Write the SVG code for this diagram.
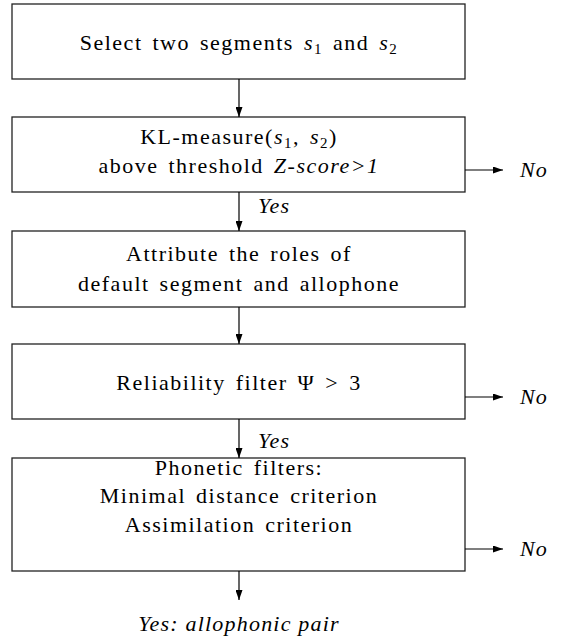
<svg xmlns="http://www.w3.org/2000/svg" width="562" height="637" viewBox="0 0 562 637">
<defs>
<marker id="ah" viewBox="0 0 10 7" refX="10" refY="3.5" markerWidth="10" markerHeight="7" markerUnits="userSpaceOnUse" orient="auto">
<path d="M0,0 L10,3.5 L0,7 Z" fill="#000"/>
</marker>
</defs>
<style>
.box{fill:#fff;stroke:#222;stroke-width:1.3}
.t{font-family:"Liberation Serif","DejaVu Serif",serif;font-size:22px;letter-spacing:1.5px;word-spacing:3px;fill:#000;text-anchor:middle}
.i{font-style:italic}
.lbl{font-family:"Liberation Serif","DejaVu Serif",serif;font-size:22px;font-style:italic;fill:#000;letter-spacing:1.2px}
.sub{font-size:15px}
.c{stroke:#000;stroke-width:1.2;fill:none;marker-end:url(#ah)}
</style>
<rect width="562" height="637" fill="#fff"/>
<g id="n1">
<rect class="box" x="12" y="4" width="453" height="75"/>
<text class="t" x="239" y="50">Select two segments <tspan class="i">s</tspan><tspan class="sub" dy="4">1</tspan><tspan dy="-4"> and </tspan><tspan class="i">s</tspan><tspan class="sub" dy="4">2</tspan></text>
</g>
<g id="n2">
<rect class="box" x="12" y="117" width="453" height="75"/>
<text class="t" x="239" y="144">KL-measure(<tspan class="i">s</tspan><tspan class="sub" dy="4">1</tspan><tspan dy="-4">, </tspan><tspan class="i">s</tspan><tspan class="sub" dy="4">2</tspan><tspan dy="-4">)</tspan></text>
<text class="t" x="239" y="173">above threshold <tspan class="i">Z-score&gt;1</tspan></text>
</g>
<g id="n3">
<rect class="box" x="12" y="231" width="453" height="76"/>
<text class="t" x="239" y="261">Attribute the roles of</text>
<text class="t" x="239" y="291">default segment and allophone</text>
</g>
<g id="n4">
<rect class="box" x="12" y="344" width="453" height="75"/>
<text class="t" x="239" y="390">Reliability filter Ψ &gt; 3</text>
</g>
<g id="n5">
<rect class="box" x="12" y="458" width="453" height="113"/>
<text class="t" x="239" y="475">Phonetic filters:</text>
<text class="t" x="239" y="503">Minimal distance criterion</text>
<text class="t" x="239" y="532">Assimilation criterion</text>
</g>
<g id="connectors">
<line class="c" x1="239" y1="79" x2="239" y2="117"/>
<line class="c" x1="239" y1="192" x2="239" y2="231"/>
<line class="c" x1="239" y1="307" x2="239" y2="344"/>
<line class="c" x1="239" y1="419" x2="239" y2="458"/>
<line class="c" x1="239" y1="571" x2="239" y2="600"/>
<line class="c" x1="465" y1="170" x2="503" y2="170"/>
<line class="c" x1="465" y1="397" x2="503" y2="397"/>
<line class="c" x1="465" y1="549" x2="503" y2="549"/>
<text class="lbl" x="258" y="213">Yes</text>
<text class="lbl" x="258" y="448">Yes</text>
<text class="lbl" x="520" y="177" letter-spacing="3">No</text>
<text class="lbl" x="520" y="404" letter-spacing="3">No</text>
<text class="lbl" x="520" y="556" letter-spacing="3">No</text>
<text class="lbl" x="239" y="631" text-anchor="middle">Yes: allophonic pair</text>
</g>
</svg>
